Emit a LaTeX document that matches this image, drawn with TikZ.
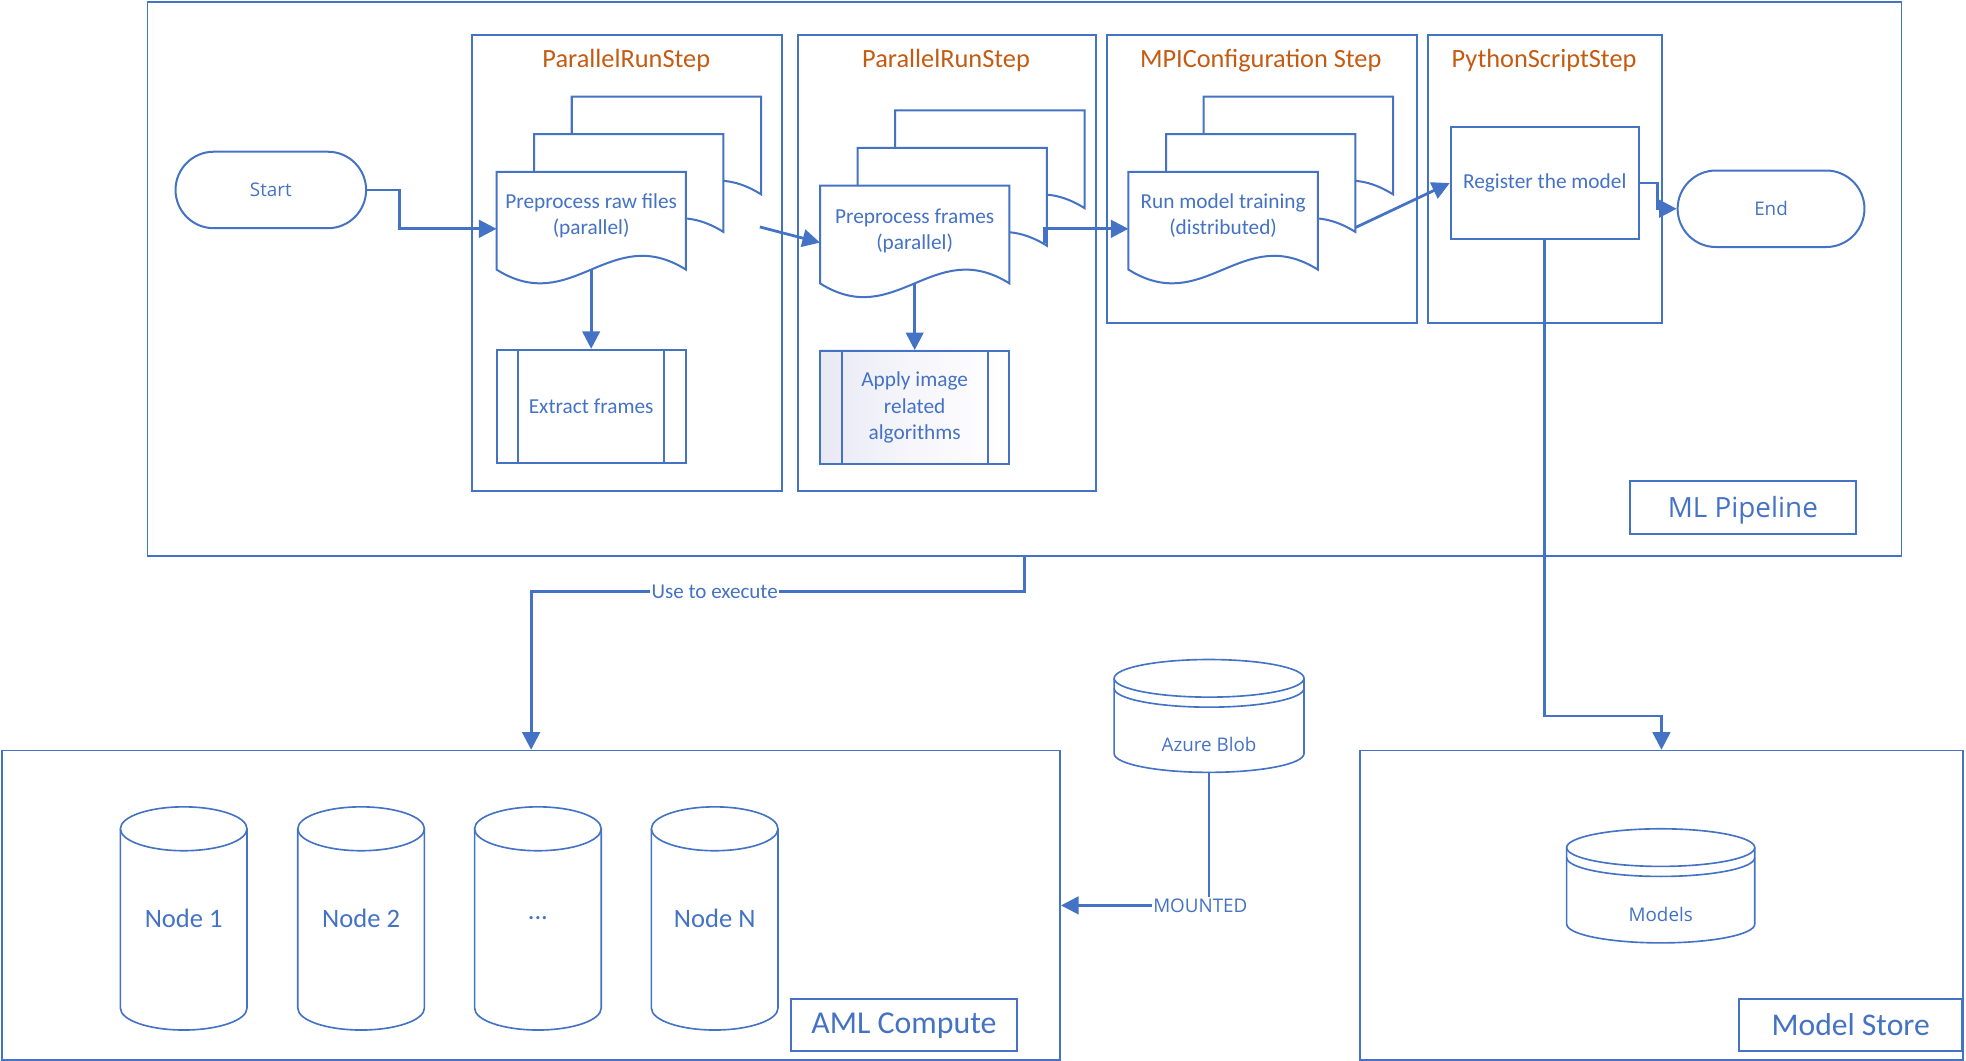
\documentclass[tikz,border=0pt]{standalone}
\usepackage{fontspec}
\setmainfont{Carlito}
\newfontfamily\segoe{Open Sans}
\usetikzlibrary{arrows.meta,calc,shapes.misc}

\definecolor{lineblue}{HTML}{4472C4}
\definecolor{steporange}{HTML}{C55A11}
\definecolor{lavender}{HTML}{E9E9F5}

% one page of a multi-page document symbol, top-left corner at (#1,#2)
\newcommand\docpage[2]{%
  \filldraw[docline, fill=white] (#1,#2) -- (#1+151,#2) -- (#1+151,#2+78)
    .. controls (#1+90.6,#2+40) and (#1+60.4,#2+116) .. (#1,#2+78) -- cycle;}
% a stack of three pages, the front page at (#1,#2)
\newcommand\docstack[2]{%
  \docpage{#1+60}{#2-60}\docpage{#1+30}{#2-30}\docpage{#1}{#2}}
% cylinder: centre x, top, bottom, half width, ellipse radius
\newcommand\drum[5]{%
  \draw[cylline] (#1-#4,#2+#5) -- (#1-#4,#3-#5)
    arc[start angle=180, end angle=0, x radius=#4, y radius=#5] -- (#1+#4,#2+#5);
  \draw[cylline] (#1,#2+#5) ellipse[x radius=#4, y radius=#5];}
\newcommand\drumrim[5]{% centre x, top, half width, radius, offset
  \draw[cylline] (#1-#3,#2+#4+#5) arc[start angle=180, end angle=0, x radius=#3, y radius=#4];}
\newcommand\threedots{...}

\begin{document}
\begin{tikzpicture}[x=0.5pt,y=-0.5pt,
  every node/.style={text=lineblue},
  frame/.style={draw=lineblue, line width=0.6pt, inner sep=0pt, anchor=north west},
  stepbox/.style={draw=lineblue, line width=0.8pt, inner sep=0pt},
  docline/.style={draw=lineblue, line width=0.8pt},
  cylline/.style={draw=lineblue, line width=0.65pt},
  conn/.style={draw=lineblue, line width=1.1pt, -{Triangle[length=7pt,width=7pt]}},
  steptitle/.style={text=steporange, font=\fontsize{10.5}{12}\selectfont},
  inner/.style={font=\fontsize{8.5}{10.5}\selectfont, align=center},
  segtext/.style={font=\segoe\fontsize{7.5}{9}\selectfont},
  tag/.style={draw=lineblue, line width=0.8pt, inner sep=0pt},
  term/.style={rounded rectangle, draw=lineblue, line width=0.8pt, inner sep=0pt,
    minimum height=30.5pt, segtext},
  hold/.style={inner sep=0pt, outer sep=0pt},
  nodelabel/.style={font=\fontsize{10.6}{12}\selectfont},
  linelabel/.style={fill=white, inner sep=0.6pt}
]
\useasboundingbox (0,0) rectangle (1568,846);

% ---------- ML pipeline container ----------
\node[frame, minimum width=699.5pt, minimum height=221pt] (pipe) at (117,1) {};
\node[tag, minimum width=90pt, minimum height=21pt, text depth=0.6pt,
  font=\segoe\fontsize{11.1}{13}\selectfont] (pipetag) at (1390,405) {ML Pipeline};

% ---------- pipeline steps ----------
\node[stepbox, minimum width=123.5pt, minimum height=182pt, anchor=north west] (s1) at (376,27) {};
\node[steptitle] (s1t) at (499.5,48.5) {ParallelRunStep};
\node[stepbox, minimum width=118.5pt, minimum height=182pt, anchor=north west] (s2) at (636,27) {};
\node[steptitle] (s2t) at (754.5,48.5) {ParallelRunStep};
\node[stepbox, minimum width=123.5pt, minimum height=115pt, anchor=north west] (s3) at (882,27) {};
\node[steptitle] (s3t) at (1005.5,48.5) {MPIConfiguration Step};
\node[stepbox, minimum width=93.5pt, minimum height=115pt, anchor=north west] (s4) at (1138,27) {};
\node[steptitle] (s4t) at (1231.5,48.5) {PythonScriptStep};

% ---------- start / end ----------
\node[term, minimum width=76pt] (start) at (216,151.5) {Start};
\node[term, minimum width=74.5pt] (end) at (1412.5,166.5) {End};

% ---------- document stacks ----------
\docstack{396}{137}
\node[hold, minimum width=75.5pt, minimum height=45.5pt, anchor=north west] (d1) at (396,137) {};
\node[inner] (d1txt) at (471.5,172) {Preprocess raw files\\(parallel)};
\coordinate (d1wave) at (471.5,215);
\coordinate (d1out) at ($(d1.east)+(59,-1.5)$);

\docstack{654}{148}
\node[hold, minimum width=75.5pt, minimum height=45.5pt, anchor=north west] (d2) at (654,148) {};
\node[inner] (d2txt) at (729.5,184) {Preprocess frames\\(parallel)};
\coordinate (d2wave) at (729.5,226);
\coordinate (d2out) at ($(d2.east)+(28,0)$);

\docstack{900}{137}
\node[hold, minimum width=75.5pt, minimum height=45.5pt, anchor=north west] (d3) at (900,137) {};
\node[inner] (d3txt) at (975.5,172) {Run model training\\(distributed)};
\coordinate (d3out) at ($(d3.east)+(30,-1)$);

% ---------- predefined processes ----------
\node[stepbox, minimum width=75.5pt, minimum height=45pt, inner] (ext) at (471.5,324) {Extract frames};
\draw[docline] ($(ext.north west)+(18,0)$) -- ($(ext.south west)+(18,0)$);
\draw[docline] ($(ext.north east)+(-18,0)$) -- ($(ext.south east)+(-18,0)$);

\shade[left color=lavender, right color=white, middle color=white!60!lavender] (654,279) rectangle (805,369);
\node[stepbox, minimum width=75.5pt, minimum height=45pt, inner] (app) at (729.5,325)
  {Apply image\\related\\algorithms};
\draw[docline] ($(app.north west)+(18,0)$) -- ($(app.south west)+(18,0)$);
\draw[docline] ($(app.north east)+(-18,0)$) -- ($(app.south east)+(-18,0)$);

\node[stepbox, minimum width=75pt, minimum height=45pt, inner] (reg) at (1232,146) {Register the model};

% ---------- AML compute ----------
\node[frame, minimum width=422pt, minimum height=123.5pt] (aml) at (1,598) {};
\node[tag, minimum width=90pt, minimum height=20.5pt, text depth=1.2pt,
  font=\fontsize{12.7}{14}\selectfont] (amltag) at (721,817.5) {AML Compute};

\foreach \cx/\nm/\txt in {146.5/n1/Node 1, 288/n2/Node 2, 429/n3/\threedots, 570/n4/Node N}{
  \drum{\cx}{643.5}{821.5}{50.5}{17.5}
  \node[hold, minimum width=50.5pt, minimum height=89pt] (\nm) at (\cx,732.5) {};
  \node[nodelabel] (\nm txt) at (\cx,732.5) {\txt};
}

% ---------- model store ----------
\node[frame, minimum width=240.5pt, minimum height=123.5pt] (ms) at (1084,598) {};
\node[tag, minimum width=89pt, minimum height=20.5pt,
  font=\fontsize{12.6}{14}\selectfont] (mstag) at (1476,817.5) {Model Store};

\drum{1324.5}{661}{752}{75}{15}
\drumrim{1324.5}{661}{75}{15}{8}
\node[hold, minimum width=75pt, minimum height=45.5pt] (models) at (1324.5,706.5) {};
\node[segtext] (modelstxt) at (1324.5,729) {Models};

% ---------- Azure blob ----------
\drum{964.3}{526}{616}{75.7}{15}
\drumrim{964.3}{526}{75.7}{15}{8}
\node[hold, minimum width=75.7pt, minimum height=45pt] (blob) at (964.3,571) {};
\node[segtext] (blobtxt) at (964.3,594) {Azure Blob};

% ---------- connectors ----------
\draw[conn] (start.east) -- ++(26,0) |- (d1.west);
\draw[conn] (d1wave) -- (ext.north);
\draw[conn] (d1out) -- (d2.west);
\draw[conn] (d2wave) -- (app.north);
\draw[conn] (d2out) |- (d3.west);
\draw[conn] (d3out) -- (reg.west);
\draw[conn] (reg.east) -- ++(14,0) |- (end.west);
\coordinate (msin) at ($(ms.north)+(0,-27)$);
\draw[conn] (reg.south) |- (msin) -- (ms.north);
\draw[conn] (pipe.south) -- ++(0,27.5)
  -| node[pos=0.314, linelabel, font=\fontsize{8.4}{10}\selectfont] (usetxt) {Use to execute} (aml.north);
\draw[conn] (blob.south)
  |- node[pos=0.5, linelabel, segtext, xshift=-3.5pt] (mnt) {MOUNTED} (aml.east);
\end{tikzpicture}
\end{document}
